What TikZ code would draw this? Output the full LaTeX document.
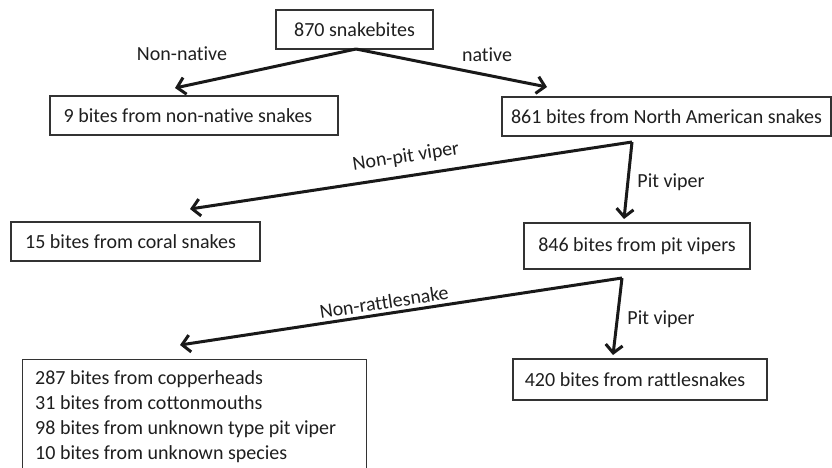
\documentclass[tikz,border=0pt]{standalone}
\usepackage{fontspec}
\setmainfont{Carlito}[Ligatures=NoCommon]
\usetikzlibrary{arrows.meta}
\begin{document}
\begin{tikzpicture}[x=1pt,y=-1pt,
  every node/.style={font=\fontsize{20}{25}\selectfont, text=black!88},
  box/.style={draw=black!80, line width=1.3pt, inner sep=0pt},
  conn/.style={line width=3pt, black!90, -{Straight Barb[length=8pt,width=17pt,line width=3pt]}},
  lbl/.style={inner sep=1pt}]
\clip (0,0) rectangle (832,467);
\fill[white] (0,0) rectangle (832,467);
% boxes
\node[box, minimum width=157pt, minimum height=39pt] (top) at (354.5,29.5) {870 snakebites};
\node[box, minimum width=288pt, minimum height=39pt] (nn) at (194,115.5) {\hspace*{-12pt}9 bites from non-native snakes};
\node[box, minimum width=329pt, minimum height=39pt] (na) at (666.5,116.5) {861 bites from North American snakes};
\node[box, minimum width=249pt, minimum height=39pt] (coral) at (135.5,241.5) {\hspace*{-10pt}15 bites from coral snakes};
\node[box, minimum width=226pt, minimum height=46pt] (pv) at (637,246) {\raisebox{3pt}{846 bites from pit vipers}};
\node[box, minimum width=254pt, minimum height=41pt] (rs) at (640,379.5) {\hspace*{-10pt}420 bites from rattlesnakes};
\node[box, minimum width=344pt, minimum height=130pt, anchor=north west] (bl) at (22,359) {};
\node[anchor=west, align=left, inner sep=0pt] (bltext) at (35,416.5) {287 bites from copperheads\\31 bites from cottonmouths\\98 bites from unknown type pit viper\\10 bites from unknown species};
% branch points and tips
\coordinate (s1) at (356,49);
\coordinate (t1) at (175,88);
\coordinate (t2) at (547,87);
\coordinate (b2) at (632,142);
\coordinate (t3) at (190,209);
\coordinate (t4) at (624,219);
\coordinate (b3) at (622,278);
\coordinate (t5) at (180,345);
\coordinate (t6) at (613,355);
% connectors
\draw[conn] (s1) -- (t1);
\draw[conn] (s1) -- (t2);
\draw[conn] (b2) -- (t3);
\draw[conn] (b2) -- (t4);
\draw[conn] (b3) -- (t5);
\draw[conn] (b3) -- (t6);
% labels
\node[lbl] (l1) at (182,54) {Non-native};
\node[lbl] (l2) at (487,55) {native};
\node[lbl, rotate=8.6] (l3) at (406,157) {Non-pit viper};
\node[lbl] (l4) at (671,182) {Pit viper};
\node[lbl, rotate=8.6] (l5) at (384,302) {Non-rattlesnake};
\node[lbl] (l6) at (661,319) {Pit viper};
\end{tikzpicture}
\end{document}
